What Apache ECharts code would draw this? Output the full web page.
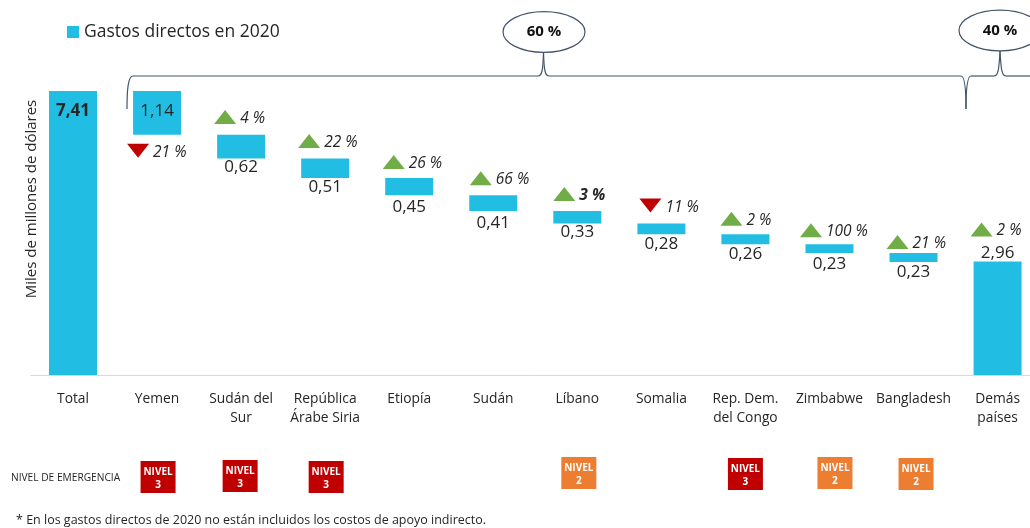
<!DOCTYPE html>
<html>
<head>
<meta charset="utf-8">
<script src="https://cdn.jsdelivr.net/npm/echarts@6/dist/echarts.min.js"></script>
<style>
  html, body { margin: 0; padding: 0; background: #fff; }
  #main { width: 1030px; height: 528px; }
</style>
</head>
<body>
<div id="main"></div>
<script>
var categories = ['Total', 'Yemen', 'Sudán del\nSur', 'República\nÁrabe Siria', 'Etiopía', 'Sudán', 'Líbano', 'Somalia', 'Rep. Dem.\ndel Congo', 'Zimbabwe', 'Bangladesh', 'Demás\npaíses'];
var gastos = [7.41, 1.14, 0.62, 0.51, 0.45, 0.41, 0.33, 0.28, 0.26, 0.23, 0.23, 2.96];
var cambio = [null, -21, 4, 22, 26, 66, 3, -11, 2, 100, 21, 2];
var nivel = [null, 3, 3, 3, null, null, 2, null, 3, 2, 2, null];

var FONT = '"Open Sans", sans-serif';
var TEXT = '#262626';
var AZUL = '#22BDE2';
var LINEA = '#44546A';
var COLOR_NIVEL = { 2: '#ED7D31', 3: '#C00000' };

// ajustes a mano, la lamina original no esta alineada
var labelGap = [0, 0, 0, 0, 3, 3, 0, 1, 1, 2, 1, 0];
var markDx = [0, -19, -16, -16, -15.5, -12.5, -13, -11, -14, -18.5, -16, -16];
var markDy = [0, 16, -17.7, -17.4, -16, -17, -17, -18, -15.5, -14, -11, -32];
var badgeDx = [0, 1, -1, 1, 0, 0, 1.5, 0, 0, 5.5, 2.5, 0];
var badgeDy = [0, 2, 1, 2, 0, 0, -2, 0, -1, -2, -1, 0];

// base invisible de la cascada
var base = [];
var restante = gastos[0];
gastos.forEach(function (v, i) {
    if (i === 0 || i === gastos.length - 1) {
        base.push(0);
    } else {
        restante -= v;
        base.push(restante);
    }
});

function coma(v) {
    return v.toFixed(2).replace('.', ',');
}

function curva(x1, y1, cx1, cy1, cx2, cy2, x2, y2) {
    return {
        type: 'bezierCurve',
        shape: { x1: x1, y1: y1, cpx1: cx1, cpy1: cy1, cpx2: cx2, cpy2: cy2, x2: x2, y2: y2 },
        style: { fill: 'none', stroke: LINEA, lineWidth: 1.2 }
    };
}

function recta(x1, x2) {
    return {
        type: 'line',
        shape: { x1: x1, y1: 76, x2: x2, y2: 76 },
        style: { stroke: LINEA, lineWidth: 1.2 }
    };
}

var barData = gastos.map(function (v, i) {
    var label = { position: 'bottom', distance: labelGap[i] + 0.5 };
    if (i < 2) label = { position: 'insideTop', distance: 12 };
    if (i === 0) label.fontWeight = 'bold';
    if (i === gastos.length - 1) label = { position: 'top', distance: 0 };
    return { value: v, label: label };
});

var markData = [];
cambio.forEach(function (c, i) {
    if (c === null) return;
    var top = base[i] + gastos[i];
    markData.push({
        value: [i, i === 1 ? base[i] : top, c],
        symbol: c < 0 ? 'path://M0,0L10,0L5,10Z' : 'triangle',
        symbolOffset: [markDx[i], markDy[i]],
        itemStyle: { color: c < 0 ? '#C00000' : '#70AD47', opacity: 1 },
        label: i === 6 ? { fontWeight: 'bold' } : {}
    });
});

var badgeData = [];
nivel.forEach(function (n, i) {
    if (n === null) return;
    badgeData.push({
        value: [i, 0, n],
        symbolOffset: [badgeDx[i], badgeDy[i]],
        itemStyle: { color: COLOR_NIVEL[n], opacity: 1 }
    });
});

var option = {
    backgroundColor: '#fff',
    animation: false,
    textStyle: { fontFamily: FONT },
    legend: {
        left: 62,
        top: 18,
        itemWidth: 12,
        itemHeight: 12,
        itemGap: 0,
        icon: 'rect',
        data: ['Gastos directos en 2020'],
        textStyle: { fontSize: 17.5, color: TEXT, fontFamily: FONT }
    },
    grid: [
        { left: 31, top: 91, width: 1008.6, height: 284, outerBoundsMode: 'none' },
        { left: 31, top: 457, width: 1008.6, height: 36, outerBoundsMode: 'none' }
    ],
    xAxis: [
        {
            type: 'category',
            data: categories,
            axisTick: { show: false },
            axisLine: { lineStyle: { color: '#D9D9D9', width: 1 } },
            axisLabel: { interval: 0, margin: 15, fontSize: 13.8, lineHeight: 19, color: TEXT, fontFamily: FONT }
        },
        { type: 'category', gridIndex: 1, data: categories, show: false }
    ],
    yAxis: [
        { type: 'value', min: 0, max: 7.41, show: false },
        { type: 'value', gridIndex: 1, min: -1, max: 1, show: false }
    ],
    series: [
        {
            name: 'base',
            type: 'bar',
            stack: 'cascada',
            barWidth: 48,
            silent: true,
            itemStyle: { color: 'transparent' },
            data: base
        },
        {
            name: 'Gastos directos en 2020',
            type: 'bar',
            stack: 'cascada',
            barWidth: 48,
            itemStyle: { color: AZUL },
            label: {
                show: true,
                fontSize: 17,
                color: TEXT,
                fontFamily: FONT,
                formatter: function (p) { return coma(p.value); }
            },
            data: barData
        },
        {
            name: 'cambio',
            type: 'scatter',
            symbolSize: [22, 14],
            z: 5,
            label: {
                show: true,
                position: 'right',
                distance: 4,
                offset: [0, 1.5],
                fontSize: 15.5,
                fontStyle: 'italic',
                color: TEXT,
                fontFamily: FONT,
                formatter: function (p) { return Math.abs(p.value[2]) + ' %'; }
            },
            data: markData
        },
        {
            name: 'nivel',
            type: 'scatter',
            xAxisIndex: 1,
            yAxisIndex: 1,
            symbol: 'rect',
            symbolSize: [35, 32],
            label: {
                show: true,
                position: 'inside',
                offset: [0, 1.5],
                fontSize: 10,
                lineHeight: 13,
                fontWeight: 'bold',
                color: '#fff',
                fontFamily: FONT,
                formatter: function (p) { return 'NIVEL\n' + p.value[2]; }
            },
            data: badgeData
        }
    ],
    graphic: [
        {
            type: 'text', x: 32, y: 199, rotation: Math.PI / 2,
            style: { text: 'Miles de millones de dólares', align: 'center', verticalAlign: 'middle', fontSize: 15, fontFamily: FONT, fill: TEXT }
        },
        // llaves de arriba
        curva(127, 109, 127, 90, 128, 76, 133, 76),
        recta(133, 538),
        curva(538, 76, 542, 76, 543, 70, 543.5, 52),
        curva(543.5, 52, 544, 70, 545, 76, 549, 76),
        recta(549, 961),
        curva(961, 76, 965, 76, 966, 90, 966, 109),
        curva(966, 109, 966, 90, 967, 76, 971, 76),
        recta(971, 994),
        curva(994, 76, 998, 76, 999, 70, 1000, 51),
        curva(1000, 51, 1001, 70, 1002, 76, 1006, 76),
        recta(1006, 1030),
        {
            type: 'ellipse',
            shape: { cx: 544, cy: 32, rx: 41, ry: 20.3 },
            style: { fill: '#fff', stroke: LINEA, lineWidth: 1.2 }
        },
        {
            type: 'ellipse',
            shape: { cx: 1000, cy: 30.5, rx: 41, ry: 20.3 },
            style: { fill: '#fff', stroke: LINEA, lineWidth: 1.2 }
        },
        {
            type: 'text', x: 544, y: 32,
            style: { text: '60 %', align: 'center', verticalAlign: 'middle', fontSize: 15, fontWeight: 'bold', fontFamily: FONT, fill: '#111' }
        },
        {
            type: 'text', x: 1000, y: 30.5,
            style: { text: '40 %', align: 'center', verticalAlign: 'middle', fontSize: 15, fontWeight: 'bold', fontFamily: FONT, fill: '#111' }
        },
        {
            type: 'text', x: 11, y: 478,
            style: { text: 'NIVEL DE EMERGENCIA', verticalAlign: 'middle', fontSize: 10.2, fontFamily: FONT, fill: TEXT }
        },
        {
            type: 'text', x: 16, y: 520,
            style: { text: '* En los gastos directos de 2020 no están incluidos los costos de apoyo indirecto.', verticalAlign: 'middle', fontSize: 12.5, fontFamily: FONT, fill: TEXT }
        }
    ]
};

var chart = echarts.init(document.getElementById('main'));
chart.setOption(option);
</script>
</body>
</html>
